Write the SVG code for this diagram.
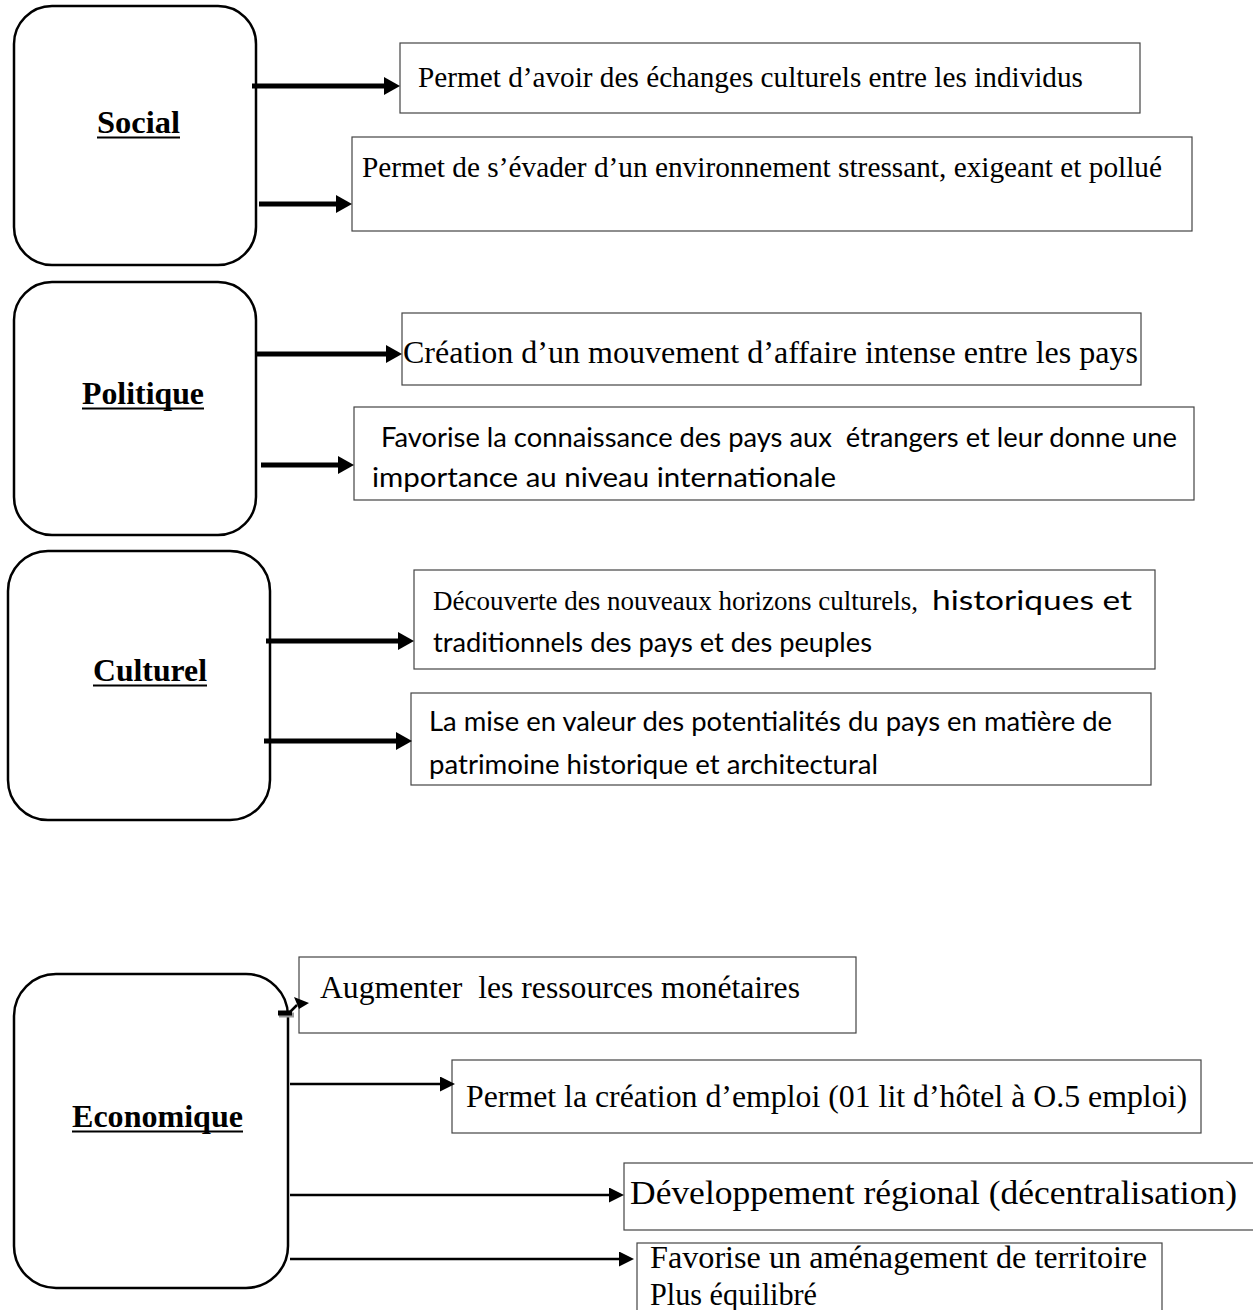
<svg xmlns="http://www.w3.org/2000/svg" width="1253" height="1310" viewBox="0 0 1253 1310">
<style>
.cat{fill:#fff;stroke:#000;stroke-width:2.5}
.box{fill:#fff;stroke:#444;stroke-width:1.2}
.lbl{font-family:"Liberation Serif","Times New Roman",serif;font-weight:bold;font-size:31px;fill:#000}
.ul{stroke:#000;stroke-width:2}
.tr{font-family:"Liberation Serif","Times New Roman",serif;fill:#000;white-space:pre}
.ca{font-family:Lato,"Open Sans",sans-serif;fill:#000;font-size:27px;white-space:pre}
.thick{stroke:#000;stroke-width:5;fill:none}
.thin{stroke:#000;stroke-width:2.5;fill:none}
</style>
<defs>
<marker id="ah" markerUnits="userSpaceOnUse" markerWidth="18" markerHeight="20" refX="2" refY="9" orient="auto"><path d="M0,0 L16,9 L0,18 z" fill="#000"/></marker>
<marker id="ahs" markerUnits="userSpaceOnUse" markerWidth="17" markerHeight="17" refX="1" refY="7.5" orient="auto"><path d="M0,0 L15,7.5 L0,15 z" fill="#000"/></marker>
</defs>
<rect width="1253" height="1310" fill="#fff"/>

<g id="social">
<rect class="cat" x="14" y="6" width="242" height="259" rx="38"/>
<text class="lbl" x="97" y="133" textLength="83" lengthAdjust="spacingAndGlyphs">Social</text>
<line class="ul" x1="97" y1="137.5" x2="180" y2="137.5"/>
</g>
<g id="social-1">
<rect class="box" x="400" y="43" width="740" height="70"/>
<text class="tr" x="418" y="87" font-size="29" textLength="665" lengthAdjust="spacingAndGlyphs">Permet d’avoir des échanges culturels entre les individus</text>
</g>
<g id="social-2">
<rect class="box" x="352" y="137" width="840" height="94"/>
<text class="tr" x="362" y="177" font-size="29" textLength="800" lengthAdjust="spacingAndGlyphs">Permet de s’évader d’un environnement stressant, exigeant et pollué</text>
</g>

<g id="politique">
<rect class="cat" x="14" y="282" width="242" height="253" rx="38"/>
<text class="lbl" x="82" y="404" textLength="122" lengthAdjust="spacingAndGlyphs">Politique</text>
<line class="ul" x1="82" y1="408.5" x2="204" y2="408.5"/>
</g>
<g id="politique-1">
<rect class="box" x="402" y="313" width="739" height="72"/>
<text class="tr" x="403" y="363" font-size="31" textLength="735" lengthAdjust="spacingAndGlyphs">Création d’un mouvement d’affaire intense entre les pays</text>
</g>
<g id="politique-2">
<rect class="box" x="354" y="407" width="840" height="93"/>
<text class="ca" x="374" y="447" textLength="803" lengthAdjust="spacingAndGlyphs"> Favorise la connaissance des pays aux  étrangers et leur donne une</text>
<text class="ca" x="372" y="487" textLength="464" lengthAdjust="spacingAndGlyphs">importance au niveau internationale</text>
</g>

<g id="culturel">
<rect class="cat" x="8" y="551" width="262" height="269" rx="40"/>
<text class="lbl" x="93" y="681" textLength="114" lengthAdjust="spacingAndGlyphs">Culturel</text>
<line class="ul" x1="93" y1="685.5" x2="207" y2="685.5"/>
</g>
<g id="culturel-1">
<rect class="box" x="414" y="570" width="741" height="99"/>
<text class="tr" x="433" y="610" font-size="28" textLength="485" lengthAdjust="spacingAndGlyphs">Découverte des nouveaux horizons culturels,</text>
<text class="ca" x="932" y="610" textLength="200" lengthAdjust="spacingAndGlyphs">historiques et</text>
<text class="ca" x="433" y="652" textLength="439" lengthAdjust="spacingAndGlyphs">traditionnels des pays et des peuples</text>
</g>
<g id="culturel-2">
<rect class="box" x="411" y="693" width="740" height="92"/>
<text class="ca" x="429" y="731" textLength="683" lengthAdjust="spacingAndGlyphs">La mise en valeur des potentialités du pays en matière de</text>
<text class="ca" x="429" y="774" textLength="449" lengthAdjust="spacingAndGlyphs">patrimoine historique et architectural</text>
</g>

<g id="economique">
<rect class="cat" x="14" y="974" width="274" height="314" rx="42"/>
<text class="lbl" x="72" y="1127" textLength="171" lengthAdjust="spacingAndGlyphs">Economique</text>
<line class="ul" x1="72" y1="1131.5" x2="243" y2="1131.5"/>
</g>
<g id="economique-1">
<rect class="box" x="299" y="957" width="557" height="76"/>
<text class="tr" x="320" y="998" font-size="31" textLength="480" lengthAdjust="spacingAndGlyphs">Augmenter  les ressources monétaires</text>
</g>
<g id="economique-2">
<rect class="box" x="452" y="1060" width="749" height="73"/>
<text class="tr" x="466" y="1107" font-size="31" textLength="721" lengthAdjust="spacingAndGlyphs">Permet la création d’emploi (01 lit d’hôtel à O.5 emploi)</text>
</g>
<g id="economique-3">
<rect class="box" x="624" y="1163" width="640" height="67"/>
<text class="tr" x="630" y="1204" font-size="33" textLength="607" lengthAdjust="spacingAndGlyphs">Développement régional (décentralisation)</text>
</g>
<g id="economique-4">
<rect class="box" x="637" y="1243" width="525" height="80"/>
<text class="tr" x="650" y="1268" font-size="32" textLength="497" lengthAdjust="spacingAndGlyphs">Favorise un aménagement de territoire</text>
<text class="tr" x="650" y="1305" font-size="32" textLength="167" lengthAdjust="spacingAndGlyphs">Plus équilibré</text>
</g>

<g id="connectors">
<line class="thick" x1="252" y1="86" x2="386" y2="86" marker-end="url(#ah)"/>
<line class="thick" x1="259" y1="204" x2="338" y2="204" marker-end="url(#ah)"/>
<line class="thick" x1="255" y1="354" x2="388" y2="354" marker-end="url(#ah)"/>
<line class="thick" x1="261" y1="465" x2="340" y2="465" marker-end="url(#ah)"/>
<line class="thick" x1="266" y1="641" x2="400" y2="641" marker-end="url(#ah)"/>
<line class="thick" x1="264" y1="741" x2="398" y2="741" marker-end="url(#ah)"/>
<line x1="279" y1="1015" x2="294" y2="1015" stroke="#999" stroke-width="5"/>
<line x1="278" y1="1013" x2="292" y2="1013" stroke="#000" stroke-width="5"/>
<line x1="290" y1="1012" x2="297" y2="1005" stroke="#000" stroke-width="2.5"/>
<polygon points="294,997 309,1003 299,1009" fill="#000"/>
<line class="thin" x1="290" y1="1084" x2="441" y2="1084" marker-end="url(#ahs)"/>
<line class="thin" x1="290" y1="1195" x2="610" y2="1195" marker-end="url(#ahs)"/>
<line class="thin" x1="290" y1="1259" x2="620" y2="1259" marker-end="url(#ahs)"/>
</g>
</svg>
